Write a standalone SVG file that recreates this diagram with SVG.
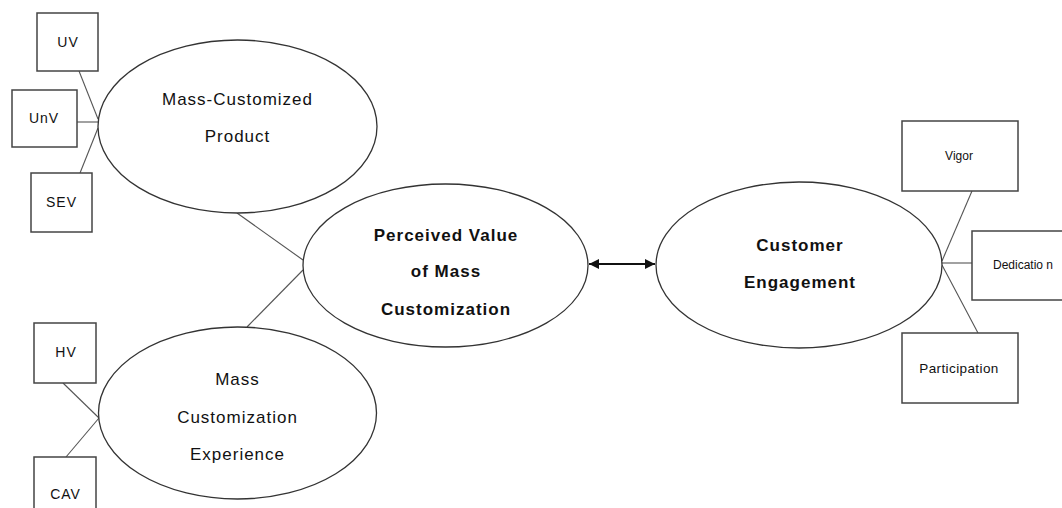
<svg xmlns="http://www.w3.org/2000/svg" width="1062" height="508" viewBox="0 0 1062 508">
<style>
.bg{fill:#ffffff}
.box{fill:#ffffff;stroke:#444444;stroke-width:1.5}
.ell{fill:#ffffff;stroke:#333333;stroke-width:1.3}
.ln{stroke:#555555;stroke-width:1.1;fill:none}
.t{font-family:"Liberation Sans",Arial,sans-serif;fill:#111111;text-anchor:middle}
.big{font-size:17px;letter-spacing:1px}
.bold{font-size:17px;font-weight:bold;letter-spacing:1px}
.sm{font-size:14px;letter-spacing:1px}
.xs{font-size:12px}
</style>
<defs>
<marker id="ah" viewBox="0 0 10 10" refX="10" refY="5" markerWidth="10" markerHeight="10" markerUnits="userSpaceOnUse" orient="auto-start-reverse">
<path d="M0,0 L10,5 L0,10 z" fill="#111111"/>
</marker>
</defs>
<rect class="bg" x="0" y="0" width="1062" height="508"/>
<g id="connectors">
<line class="ln" x1="79" y1="71" x2="98" y2="119"/>
<line class="ln" x1="77" y1="122" x2="98" y2="122"/>
<line class="ln" x1="80" y1="173" x2="98" y2="128"/>
<line class="ln" x1="63" y1="383" x2="99" y2="418"/>
<line class="ln" x1="66" y1="457" x2="99" y2="418"/>
<line class="ln" x1="237" y1="213" x2="303" y2="260"/>
<line class="ln" x1="247" y1="327" x2="303" y2="270"/>
<line class="ln" x1="972" y1="191" x2="942" y2="261"/>
<line class="ln" x1="942" y1="263" x2="972" y2="263"/>
<line class="ln" x1="942" y1="265" x2="978" y2="333"/>
<line x1="589" y1="264" x2="655" y2="264" stroke="#111111" stroke-width="1.8" marker-start="url(#ah)" marker-end="url(#ah)"/>
</g>
<g id="node-uv"><rect class="box" x="37" y="13" width="61" height="58"/><text class="t sm" x="68" y="47">UV</text></g>
<g id="node-unv"><rect class="box" x="12" y="90" width="65" height="57"/><text class="t sm" x="44" y="123">UnV</text></g>
<g id="node-sev"><rect class="box" x="31" y="173" width="61" height="59"/><text class="t sm" x="61.5" y="207">SEV</text></g>
<g id="node-hv"><rect class="box" x="34" y="323" width="62" height="60"/><text class="t sm" x="66" y="357">HV</text></g>
<g id="node-cav"><rect class="box" x="34" y="457" width="62" height="62"/><text class="t sm" x="65.5" y="499">CAV</text></g>
<g id="node-mcp"><ellipse class="ell" cx="237.5" cy="126.5" rx="139.5" ry="86.5"/><text class="t big" x="237.5" y="105">Mass-Customized</text><text class="t big" x="237.5" y="142">Product</text></g>
<g id="node-mce"><ellipse class="ell" cx="237.5" cy="413" rx="139" ry="86"/><text class="t big" x="237.5" y="385">Mass</text><text class="t big" x="237.5" y="423">Customization</text><text class="t big" x="237.5" y="460">Experience</text></g>
<g id="node-pv"><ellipse class="ell" cx="445.5" cy="265.5" rx="142.5" ry="81.5"/><text class="t bold" x="446" y="241">Perceived Value</text><text class="t bold" x="446" y="277">of Mass</text><text class="t bold" x="446" y="315">Customization</text></g>
<g id="node-ce"><ellipse class="ell" cx="799" cy="265" rx="143" ry="83"/><text class="t bold" x="800" y="251">Customer</text><text class="t bold" x="800" y="288">Engagement</text></g>
<g id="node-vigor"><rect class="box" x="902" y="121" width="116" height="70"/><text class="t xs" x="959" y="160">Vigor</text></g>
<g id="node-dedication"><rect class="box" x="972" y="231" width="100" height="69"/><text class="t xs" x="1023" y="269">Dedicatio n</text></g>
<g id="node-participation"><rect class="box" x="902" y="333" width="116" height="70"/><text class="t" style="font-size:13.5px;letter-spacing:0.4px" x="959" y="373">Participation</text></g>
</svg>
